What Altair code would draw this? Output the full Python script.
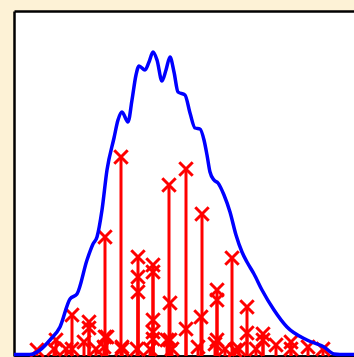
import altair as alt
import pandas as pd

# density curve (x, density)
curve_x = [0, 16, 19, 26, 36, 46, 56, 63, 73, 79, 83, 88, 93, 100, 104, 108, 114, 118, 122, 125,
           131, 135, 139, 143, 148, 152, 156, 160, 164, 171, 176, 181, 186, 190, 193, 196, 200, 204,
           210, 216, 222, 228, 233, 240, 248, 260, 273, 293, 310, 320, 326, 340]
curve_y = [1.5, 1.5, 2, 6, 16, 29, 57, 62, 96, 112, 119, 146, 186, 218, 236, 244, 234, 256, 281, 290,
           286, 294, 304, 296, 275, 286, 299, 284, 264, 261, 243, 228, 227, 216, 201, 184, 176, 173,
           161, 144, 121, 104, 94, 82, 66, 46, 29, 16, 9, 2, 1.5, 1.5]

# stem values
stem_x = [91, 91, 107, 108, 124, 124, 124, 139, 139, 139, 139, 139, 155, 156, 156, 172, 172, 188, 187,
          203, 203, 203, 218, 233, 233, 58, 75, 75, 42, 23, 40, 52, 58, 70, 82, 90, 93, 108, 123,
          136, 153, 158, 184, 201, 211, 221, 225, 242, 249, 249, 262, 277, 277, 294, 309]
stem_y = [119, 19, 199, 9, 99, 79, 64, 91, 84, 36, 24, 17, 171, 53, 16, 187, 27, 142, 39,
          66, 56, 16, 98, 49, 23, 41, 34, 28, 16, 6, 7, 7, 7, 14, 7, 9, 19, 7, 7,
          7, 16, 7, 9, 12, 7, 6, 7, 7, 22, 16, 11, 14, 7, 9, 7]

curve = pd.DataFrame({"x": curve_x, "y": curve_y})
stems = pd.DataFrame({"x": stem_x, "y": stem_y})

xs = alt.Scale(domain=[0, 340], nice=False, zero=False)
ys = alt.Scale(domain=[0, 345], nice=False, zero=False)

spine = dict(domain=True, domainColor="black", domainWidth=2.5, ticks=False,
             labels=False, title=None, grid=False, values=[])
left_ax = alt.Axis(orient="left", **spine)
bottom_ax = alt.Axis(orient="bottom", **spine)
top_ax = alt.Axis(orient="top", **spine)

line = alt.Chart(curve).mark_line(color="#0000ff", strokeWidth=3.5, interpolate="monotone").encode(
    x=alt.X("x:Q", scale=xs, axis=bottom_ax),
    y=alt.Y("y:Q", scale=ys, axis=left_ax),
)

rules = alt.Chart(stems).mark_rule(color="#ff0000", strokeWidth=3).encode(
    x=alt.X("x:Q", scale=xs, axis=top_ax),
    y=alt.Y("y:Q", scale=ys, axis=left_ax),
    y2=alt.datum(0),
)

pts = alt.Chart(stems).mark_point(
    shape="M-1,-1L1,1M-1,1L1,-1", filled=False, color="#ff0000", strokeWidth=3, size=180, opacity=1
).encode(
    x=alt.X("x:Q", scale=xs, axis=bottom_ax),
    y=alt.Y("y:Q", scale=ys, axis=left_ax),
)

chart = alt.layer(rules, pts, line).properties(
    width=340, height=345,
    background="#fdf2d6",
    padding={"left": 14, "top": 11, "right": 0, "bottom": 1},
    autosize=alt.AutoSizeParams(type="none"),
).configure_view(stroke=None, fill="white")

chart.save("out.html", embed_options={"renderer": "svg", "actions": False})
